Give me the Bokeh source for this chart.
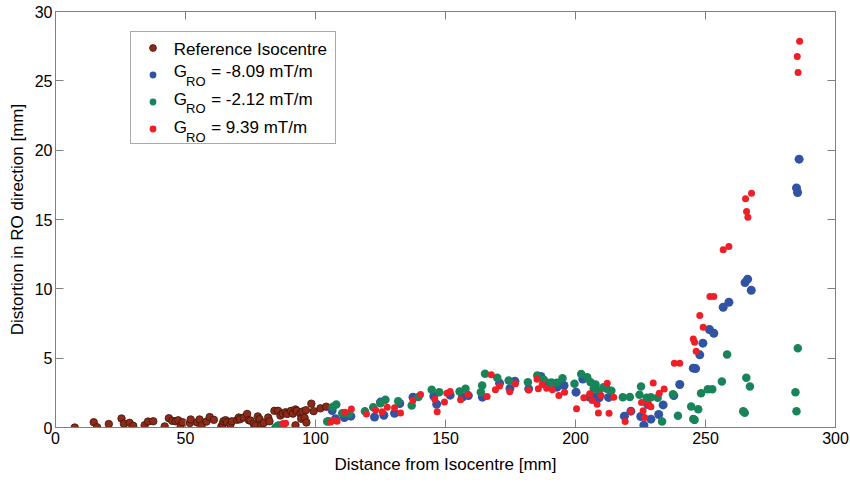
from bokeh.plotting import figure
from bokeh.models import (Range1d, FixedTicker, LinearAxis, Legend, LegendItem, Label)
from bokeh.embed import file_html
from bokeh.resources import INLINE

# ---------------- data ----------------
x_ticks = [0, 50, 100, 150, 200, 250, 300]
y_ticks = [0, 5, 10, 15, 20, 25, 30]

ref_x = [7.4, 14.7, 16.0, 20.5, 25.4, 26.3, 28.5, 29.9, 34.3, 35.6, 37.6, 42.0, 43.6, 44.9,
         46.2, 47.2, 48.1, 48.9, 51.7, 52.0, 54.5, 55.4, 56.2, 58.1, 59.3, 60.9, 63.8, 64.3,
         64.6, 65.4, 66.0, 67.3, 67.8, 69.9, 70.5, 71.0, 72.4, 73.7, 74.4, 75.0, 76.2, 77.0,
         77.8, 78.5, 79.2, 80.1, 81.8, 82.3, 84.2, 85.6, 86.5, 87.4, 88.5, 89.1, 90.6, 91.3,
         92.3, 92.3, 92.8, 94.2, 94.5, 95.0, 95.8, 96.3, 96.5, 98.4, 99.3, 101.9, 104.1]
ref_y = [0.0, 0.38, 0.02, 0.25, 0.65, 0.27, 0.34, 0.12, 0.17, 0.43, 0.45, 0.08, 0.67, 0.48,
         0.45, 0.52, 0.02, 0.38, 0.32, 0.58, 0.36, 0.58, 0.14, 0.43, 0.75, 0.55, 0.07, 0.25,
         0.45, 0.53, 0.38, 0.2, 0.45, 0.55, 0.72, 0.6, 0.72, 0.98, 0.52, 0.5, 0.27, 0.14,
         0.8, 0.6, 0.2, 0.32, 0.72, 0.45, 1.2, 1.2, 0.86, 1.0, 1.1, 0.98, 1.2, 1.0,
         1.3, 0.16, 1.2, 1.0, 0.63, 1.15, 0.7, 1.25, 0.36, 1.72, 1.18, 1.38, 1.5]

# G_RO = -8.09 mT/m
neg809_x = [85.5, 87.5, 106.4, 107.7, 111.1, 113.6, 122.7, 125.0, 126.3, 130.4, 132.4, 137.5,
            145.5, 146.6, 151.8, 156.5, 158.8, 164.2, 170.8, 174.8, 176.7, 182.0, 186.7, 189.5,
            192.9, 195.6, 200.2, 202.8, 205.4, 207.4, 209.1, 212.7, 218.8, 221.3, 225.1, 226.3,
            227.8, 229.0, 232.0, 233.7, 237.8, 240.1, 245.3, 246.2, 247.8, 249.0, 251.5, 253.2,
            256.8, 259.0, 265.2, 266.2, 267.6, 285.0, 285.4, 286.0]
neg809_y = [0.1, 0.2, 1.22, 0.63, 0.72, 0.82, 0.76, 1.83, 0.88, 1.03, 1.73, 2.19,
            2.25, 1.68, 2.33, 2.2, 2.3, 2.19, 3.2, 2.82, 3.34, 2.79, 3.68, 3.2,
            2.91, 3.03, 2.55, 3.5, 2.2, 2.19, 2.14, 2.17, 0.82, 1.18, 0.79, 0.17,
            1.66, 0.6, 0.94, 1.63, 2.3, 3.1, 4.28, 4.25, 5.24, 6.08, 7.07, 6.8,
            8.67, 9.03, 10.45, 10.7, 9.9, 17.28, 16.95, 19.35]

# G_RO = -2.12 mT/m
neg212_x = [84.6, 86.0, 87.2, 104.5, 105.1, 106.7, 108.0, 110.3, 112.8, 119.0, 122.2, 125.0,
            126.9, 131.8, 137.0, 139.6, 144.7, 147.6, 155.4, 157.7, 163.6, 164.1, 165.2, 169.9,
            174.3, 181.7, 185.3, 187.8, 190.8, 192.8, 195.0, 199.6, 202.2, 204.5, 205.8, 207.0,
            207.7, 209.0, 210.8, 212.0, 213.8, 218.2, 220.9, 224.6, 225.2, 227.4, 229.0, 231.6,
            233.3, 237.5, 239.4, 244.5, 245.3, 245.8, 247.2, 248.3, 250.9, 252.6, 256.3, 258.3,
            264.5, 265.1, 265.7, 267.1, 284.6, 285.0, 285.5]
neg212_y = [0.0, 0.15, 0.05, 0.43, 0.45, 1.5, 1.66, 1.03, 0.98, 1.18, 1.46, 1.75,
            2.0, 1.9, 1.59, 2.2, 2.72, 2.55, 2.6, 2.79, 2.55, 3.03, 3.87, 3.58,
            3.39, 3.27, 3.75, 3.45, 3.25, 3.22, 3.55, 3.15, 3.85, 3.63, 3.27, 2.79,
            3.1, 2.67, 2.9, 2.79, 2.65, 2.19, 2.2, 2.36, 2.96, 2.14, 2.19, 2.14,
            0.43, 2.4, 0.84, 1.51, 0.62, 0.55, 1.32, 2.47, 2.76, 2.76, 3.32, 5.26,
            1.18, 1.06, 3.58, 2.96, 2.55, 1.18, 5.72]

# G_RO = 9.39 mT/m
pos939_x = [87.6, 88.5, 105.8, 107.0, 108.3, 111.4, 113.8, 119.6, 123.1, 125.6, 127.6, 130.4,
            132.7, 137.5, 140.4, 145.9, 146.8, 149.6, 150.5, 151.8, 155.8, 158.6, 166.0, 167.6,
            169.2, 170.8, 174.7, 176.9, 182.0, 185.2, 185.7, 187.2, 188.9, 191.1, 193.6, 195.8,
            200.4, 203.2, 205.5, 206.4, 208.3, 208.8, 209.8, 212.2, 212.9, 214.7, 219.1, 221.3,
            225.4, 226.0, 226.6, 228.0, 229.0, 229.9, 232.2, 234.1, 238.0, 240.1, 245.3, 245.8,
            246.4, 247.8, 249.1, 251.7, 253.2, 256.8, 259.0, 265.4, 265.8, 266.3, 267.7, 285.3,
            285.6, 286.2]
pos939_y = [0.27, 0.3, 0.4, 0.5, 0.45, 1.1, 1.33, 0.98, 1.27, 1.14, 1.46, 1.42,
            1.05, 1.97, 2.38, 2.03, 1.14, 1.83, 2.47, 2.59, 2.0, 2.37, 2.24, 3.8,
            2.72, 3.0, 2.58, 3.15, 2.7, 3.48, 2.8, 3.1, 2.83, 2.72, 2.31, 2.55,
            1.35, 2.14, 2.43, 1.95, 1.68, 1.04, 2.31, 3.2, 1.03, 2.19, 0.44, 1.18,
            1.8, 1.2, 0.72, 1.66, 1.5, 3.21, 2.47, 2.77, 4.64, 4.64, 6.39, 6.15,
            5.5, 8.07, 7.23, 9.44, 9.44, 12.81, 13.05, 16.49, 15.57, 15.16, 16.9, 26.75,
            25.6, 27.85]

legend_ref = "Reference Isocentre"
legend_sym = "G"
legend_sub = "RO"
legend_vals = ["= -8.09 mT/m", "= -2.12 mT/m", "= 9.39 mT/m"]

# ---------------- styling ----------------
FONT = "Liberation Sans"
AXIS_GREY = "#808080"
C_REF, C_REF_LINE = "#8e2b18", "#3e150b"
C_BLUE, C_GREEN, C_RED = "#3153a3", "#19845a", "#ee1f26"

p = figure(width=850, height=485, output_backend="svg", toolbar_location=None,
           x_range=Range1d(0, 300), y_range=Range1d(0, 30),
           min_border_left=55, min_border_right=15, min_border_top=11, min_border_bottom=58)
p.background_fill_color = "white"
p.border_fill_color = "white"
p.outline_line_color = AXIS_GREY
p.xgrid.visible = False
p.ygrid.visible = False

def style_axis(ax, ticks, show_labels=True):
    ax.ticker = FixedTicker(ticks=ticks)
    ax.axis_line_color = AXIS_GREY
    ax.major_tick_line_color = AXIS_GREY
    ax.major_tick_in = 8
    ax.major_tick_out = 0
    ax.minor_tick_line_color = None
    ax.major_label_text_font = FONT
    ax.major_label_text_font_size = "16px"
    ax.major_label_text_color = "black"
    if not show_labels:
        ax.major_label_overrides = {t: "" for t in ticks}

style_axis(p.xaxis[0], x_ticks)
style_axis(p.yaxis[0], y_ticks)
p.xaxis.major_label_standoff = 4
p.yaxis.major_label_standoff = 3
for ax, lab in ((p.xaxis[0], "Distance from Isocentre [mm]"),
                (p.yaxis[0], "Distortion in RO direction [mm]")):
    ax.axis_label = lab
    ax.axis_label_text_font = FONT
    ax.axis_label_text_font_size = "17px"
    ax.axis_label_text_font_style = "normal"
    ax.axis_label_text_color = "black"
p.xaxis.axis_label_standoff = 8
p.yaxis.axis_label_standoff = 5

top_ax = LinearAxis()
style_axis(top_ax, x_ticks, show_labels=False)
p.add_layout(top_ax, "above")
right_ax = LinearAxis()
style_axis(right_ax, y_ticks, show_labels=False)
p.add_layout(right_ax, "right")

r_ref = p.scatter(ref_x, ref_y, size=7.5, fill_color=C_REF, line_color=C_REF_LINE, line_width=0.8)
r_b = p.scatter(neg809_x, neg809_y, size=9, fill_color=C_BLUE, line_color=None)
r_g = p.scatter(neg212_x, neg212_y, size=8.5, fill_color=C_GREEN, line_color=None)
r_r = p.scatter(pos939_x, pos939_y, size=7, fill_color=C_RED, line_color=None)

legend = Legend(items=[LegendItem(label=" ", renderers=[r]) for r in (r_ref, r_b, r_g, r_r)],
                location=(75, 283), margin=0, padding=5, spacing=7,
                glyph_width=33, glyph_height=17, label_height=20, label_width=157,
                label_standoff=4, label_text_font_size="10px",
                border_line_color="#555555", border_line_width=1,
                background_fill_alpha=0)
p.add_layout(legend, "center")

def lab(text, x, y, size="17px"):
    p.add_layout(Label(text=text, x=x, y=y, x_units="screen", y_units="screen",
                       text_font=FONT, text_font_size=size, text_color="black",
                       text_baseline="alphabetic", text_align="left", level="overlay"))

lab(legend_ref, 118.3, 378.3)
for val, base, subbase in zip(legend_vals, (355.7, 328.3, 300.0), (346.2, 318.7, 290.5)):
    lab(legend_sym, 118.3, base)
    lab(legend_sub, 130.5, subbase, size="13px")
    lab(val, 155.7, base)

open("out.html", "w").write(file_html(p, INLINE))
